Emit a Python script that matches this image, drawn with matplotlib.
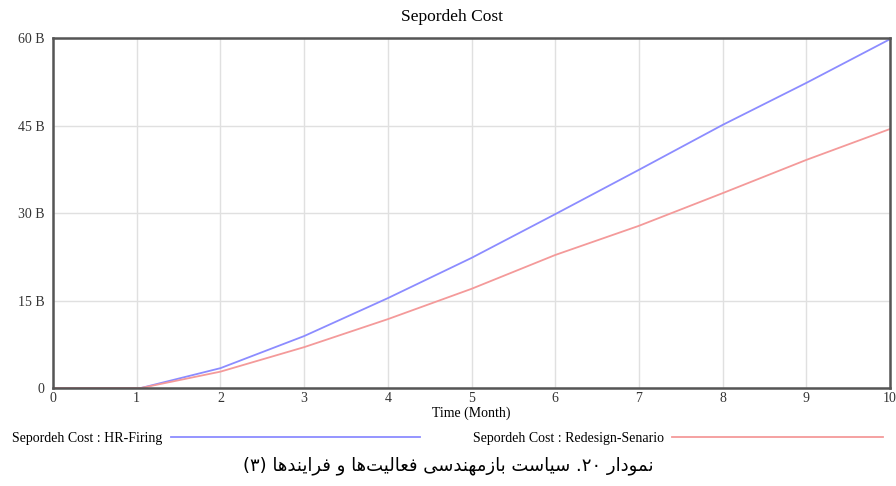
import numpy as np
import matplotlib.pyplot as plt
from matplotlib.ticker import FuncFormatter

# data (billions)
months = [0, 1, 1.05, 2, 3, 4, 5, 6, 7, 8, 9, 10]
hr_firing = [0, 0, 0, 3.4, 8.9, 15.4, 22.3, 29.8, 37.4, 45.1, 52.3, 59.8]
redesign = [0, 0, 0, 2.8, 7.0, 11.8, 17.0, 22.8, 27.8, 33.4, 39.1, 44.4]
yticks = [0, 15, 30, 45, 60]
caption = 'نمودار ۲۰. سیاست بازمهندسی فعالیت\u200cها و فرایندها (۳)'

# simple persian shaping (matplotlib does not join arabic letters)
# isolated, final, initial, medial
forms = {
    'ا': (0xFE8D, 0xFE8E), 'د': (0xFEA9, 0xFEAA), 'ر': (0xFEAD, 0xFEAE),
    'ز': (0xFEAF, 0xFEB0), 'و': (0xFEED, 0xFEEE),
    'ب': (0xFE8F, 0xFE90, 0xFE91, 0xFE92), 'ت': (0xFE95, 0xFE96, 0xFE97, 0xFE98),
    'س': (0xFEB1, 0xFEB2, 0xFEB3, 0xFEB4), 'ع': (0xFEC9, 0xFECA, 0xFECB, 0xFECC),
    'ف': (0xFED1, 0xFED2, 0xFED3, 0xFED4), 'ل': (0xFEDD, 0xFEDE, 0xFEDF, 0xFEE0),
    'م': (0xFEE1, 0xFEE2, 0xFEE3, 0xFEE4), 'ن': (0xFEE5, 0xFEE6, 0xFEE7, 0xFEE8),
    'ه': (0xFEE9, 0xFEEA, 0xFEEB, 0xFEEC), 'ی': (0xFBFC, 0xFBFD, 0xFBFE, 0xFBFF),
}

def shape(text):
    out = []
    for i, c in enumerate(text):
        if c == '\u200c':
            continue
        if c not in forms:
            out.append(c)
            continue
        prev = text[i - 1] if i > 0 else ''
        nxt = text[i + 1] if i + 1 < len(text) else ''
        join_prev = prev in forms and len(forms[prev]) == 4
        join_next = len(forms[c]) == 4 and nxt in forms
        f = forms[c]
        if join_prev and join_next:
            out.append(chr(f[3]))
        elif join_prev:
            out.append(chr(f[1]))
        elif join_next:
            out.append(chr(f[2]))
        else:
            out.append(chr(f[0]))
    # visual order: reverse, but keep digit runs left-to-right
    tokens = []
    for c in out:
        if c in '۰۱۲۳۴۵۶۷۸۹' and tokens and tokens[-1][-1] in '۰۱۲۳۴۵۶۷۸۹':
            tokens[-1] += c
        else:
            tokens.append(c)
    vis = ''.join(tokens[::-1])
    return vis.replace('(', '\0').replace(')', '(').replace('\0', ')')

plt.rcParams['font.family'] = ['Liberation Serif', 'DejaVu Serif']

fig = plt.figure(figsize=(8.96, 4.86), dpi=100)
ax = fig.add_axes([53 / 896, 1 - 388 / 486, 837 / 896, 350 / 486])

l1, = ax.plot(months, hr_firing, color='#8c8cff', lw=1.3)
l2, = ax.plot(months, redesign, color='#f49a9a', lw=1.3)

ax.set_xlim(0, 10)
ax.set_ylim(0, 60)
ax.set_xticks(range(11))
ax.set_yticks(yticks)
ax.yaxis.set_major_formatter(FuncFormatter(lambda v, p: '0' if v == 0 else '%d B' % v))
ax.grid(color='#e0e0e0', lw=1)
ax.tick_params(axis='y', length=0, labelsize=10, colors='#333333', pad=6)
ax.tick_params(axis='x', length=0, labelsize=10, colors='#333333', pad=3)
for s in ax.spines.values():
    s.set_color('#555555')
    s.set_linewidth(1.8)

ax.set_title('Sepordeh Cost', fontsize=12.5, pad=12, x=0.477)
ax.set_xlabel('Time (Month)', fontsize=10, labelpad=1)

leg1 = ax.legend([l1], ['Sepordeh Cost : HR-Firing'], loc='upper left',
                 bbox_to_anchor=(-53 / 837, -0.091), frameon=False, markerfirst=False,
                 handlelength=17.9, fontsize=10, handletextpad=0.6)
ax.add_artist(leg1)
ax.legend([l2], ['Sepordeh Cost : Redesign-Senario'], loc='upper left',
          bbox_to_anchor=(407 / 837, -0.091), frameon=False, markerfirst=False,
          handlelength=15.2, fontsize=10, handletextpad=0.6)

fig.text(0.5, 1 - 466 / 486, shape(caption), ha='center', va='center', fontsize=13,
         family=['DejaVu Sans'])

fig.savefig('out.png', dpi=100)
